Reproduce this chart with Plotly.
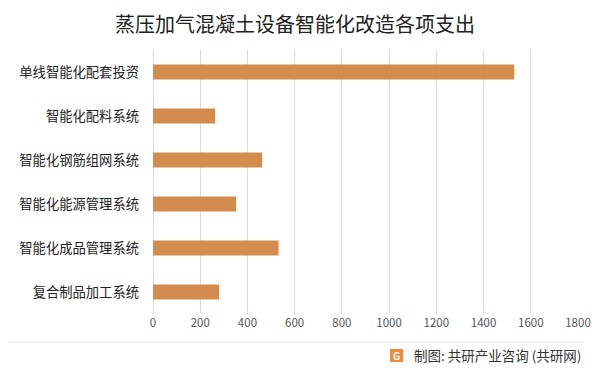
import plotly.graph_objects as go

categories = ["单线智能化配套投资", "智能化配料系统", "智能化钢筋组网系统",
              "智能化能源管理系统", "智能化成品管理系统", "复合制品加工系统"]
values = [1530, 263, 462, 352, 532, 280]
tick_vals = [0, 200, 400, 600, 800, 1000, 1200, 1400, 1600, 1800]

FONT = "Noto Sans CJK SC"

# page has an 8px body margin, so the figure is drawn 8px smaller and offset
W, H = 593, 367
PL, PR, PT, PB = 153, 578, 50, 314   # plot area in page pixels
OFF = 8
PW, PH = PR - PL, PB - PT

def px(xp):
    return (xp - PL) / PW

def py(yp):
    return (PB - yp) / PH

fig = go.Figure(go.Bar(
    x=values, y=categories, orientation="h",
    marker=dict(color="#D38C4E", line=dict(width=0)),
    width=0.34,
))

fig.update_layout(
    width=W, height=H,
    margin=dict(l=PL - OFF, r=W - (PR - OFF), t=PT - OFF, b=H - (PB - OFF)),
    paper_bgcolor="white", plot_bgcolor="white",
    showlegend=False,
    font=dict(family=FONT, color="#333333"),
    title=dict(text="蒸压加气混凝土设备智能化改造各项支出", x=(295 - OFF) / W, xanchor="center",
               y=1 - (25 - OFF) / H, yanchor="middle",
               font=dict(family=FONT, size=20, color="#222222")),
    xaxis=dict(range=[0, 1800], tickvals=tick_vals, showgrid=True, automargin=False,
               gridcolor="#d9d9d9", gridwidth=1, zeroline=True,
               zerolinecolor="#d9d9d9", zerolinewidth=1, showline=False,
               ticks="", tickfont=dict(size=11.5, color="#555555"),
               fixedrange=True),
    yaxis=dict(autorange="reversed", showgrid=False, showline=False, ticks="",
               automargin=False, ticklabelstandoff=13,
               tickfont=dict(size=13.3, color="#222222")),
)

# footer divider line
fig.add_shape(type="line", xref="paper", yref="paper",
              x0=px(0), x1=px(583), y0=py(342), y1=py(342),
              line=dict(color="#e3e3e3", width=1))

# logo
fig.add_shape(type="rect", xref="paper", yref="paper",
              x0=px(390), x1=px(403), y0=py(362), y1=py(349),
              fillcolor="#F28A3A", line=dict(width=0))
fig.add_annotation(xref="paper", yref="paper", x=px(396.5), y=py(355.5),
                   text="<b>G</b>", showarrow=False, xanchor="center", yanchor="middle",
                   font=dict(family=FONT, size=10, color="white"))

fig.add_annotation(xref="paper", yref="paper", x=px(583), y=py(355),
                   text="制图: 共研产业咨询 (共研网)", showarrow=False,
                   xanchor="right", yanchor="middle",
                   font=dict(family=FONT, size=13.5, color="#333333"))

fig.write_html("out.html")
